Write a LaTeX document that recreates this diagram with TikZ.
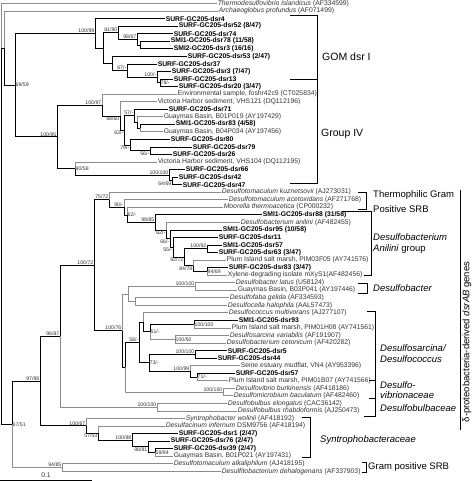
\documentclass[tikz,border=0pt]{standalone}
\usepackage{fontspec}
\setmainfont{Liberation Sans}
\usetikzlibrary{calc}

\definecolor{branchgray}{gray}{0.55}
\definecolor{refgray}{gray}{0.2}

\tikzset{
  leaf/.style={anchor=west, inner sep=0.6pt, font=\fontsize{6.8}{7}\selectfont},
  clone/.style={leaf, font=\fontsize{6.8}{7}\selectfont\bfseries},
  refseq/.style={leaf, text=refgray},
  boot/.style={inner sep=0.5pt, font=\fontsize{5.2}{5.2}\selectfont, text=refgray},
  bsa/.style={boot, anchor=south east},
  bsb/.style={boot, anchor=north east},
  bsr/.style={boot, anchor=west},
  br/.style={line width=0.7pt},
  gbr/.style={line width=0.7pt, draw=branchgray},
  brk/.style={line width=0.6pt},
  grp/.style={anchor=west, inner sep=0pt, font=\fontsize{9.5}{10}\selectfont},
}

\newcommand{\rowy}[1]{3.5+7.545*(#1-1)}
% inner node: name, x, upper child, lower child
\newcommand{\clade}[4]{%
  \path ($(#3)!0.5!(#4)$) coordinate (mid);
  \coordinate (#1) at (mid -| #2,0);}

\begin{document}
\begin{tikzpicture}[x=1pt, y=-1pt]
\useasboundingbox (0,0) rectangle (474,481);

% tips
\node[refseq] (l1) at (217,{\rowy{1}}) {\textit{Thermodesulfovibrio islandicus} (AF334599)};
\node[refseq] (l2) at (218,{\rowy{2}}) {\textit{Archaeoglobus profundus} (AF071499)};
\node[clone] (l3) at (165,{\rowy{3}}) {SURF-GC205-dsr4};
\node[clone] (l4) at (178,{\rowy{4}}) {SURF-GC205-dsr52 (8/47)};
\node[clone] (l5) at (173,{\rowy{5}}) {SURF-GC205-dsr74};
\node[clone] (l6) at (170,{\rowy{6}}) {SMI1-GC205-dsr78 (11/58)};
\node[clone] (l7) at (173,{\rowy{7}}) {SMI2-GC205-dsr3 (16/16)};
\node[clone] (l8) at (187,{\rowy{8}}) {SURF-GC205-dsr53 (2/47)};
\node[clone] (l9) at (157,{\rowy{9}}) {SURF-GC205-dsr37};
\node[clone] (l10) at (171,{\rowy{10}}) {SURF-GC205-dsr3 (7/47)};
\node[clone] (l11) at (173,{\rowy{11}}) {SURF-GC205-dsr13};
\node[clone] (l12) at (178,{\rowy{12}}) {SURF-GC205-dsr20 (3/47)};
\node[refseq] (l13) at (177,{\rowy{13}}) {Environmental sample, foshr42c9 (CT025834)};
\node[refseq] (l14) at (157,{\rowy{14}}) {Victoria Harbor sediment, VHS121 (DQ112196)};
\node[clone] (l15) at (168,{\rowy{15}}) {SURF-GC205-dsr71};
\node[refseq] (l16) at (163,{\rowy{16}}) {Guaymas Basin, B01P019 (AY197429)};
\node[clone] (l17) at (175,{\rowy{17}}) {SMI1-GC205-dsr83 (4/58)};
\node[refseq] (l18) at (163,{\rowy{18}}) {Guaymas Basin, B04P034 (AY197456)};
\node[clone] (l19) at (170,{\rowy{19}}) {SURF-GC205-dsr80};
\node[clone] (l20) at (192,{\rowy{20}}) {SURF-GC205-dsr79};
\node[clone] (l21) at (172,{\rowy{21}}) {SURF-GC205-dsr26};
\node[refseq] (l22) at (157,{\rowy{22}}) {Victoria Harbor sediment, VHS104 (DQ112195)};
\node[clone] (l23) at (185,{\rowy{23}}) {SURF-GC205-dsr66};
\node[clone] (l24) at (178,{\rowy{24}}) {SURF-GC205-dsr42};
\node[clone] (l25) at (182,{\rowy{25}}) {SURF-GC205-dsr47};
\node[refseq] (l26) at (221,{\rowy{26}}) {\textit{Desulfotomaculum kuznetsovii} (AJ273031)};
\node[refseq] (l27) at (228,{\rowy{27}}) {\textit{Desulfotomaculum acetoxidans} (AF271768)};
\node[refseq] (l28) at (223,{\rowy{28}}) {\textit{Moorella thermoacetica} (CP000232)};
\node[clone] (l29) at (262,{\rowy{29}}) {SMI1-GC205-dsr88 (31/58)};
\node[refseq] (l30) at (240,{\rowy{30}}) {\textit{Desulfobacterium anilini} (AF482455)};
\node[clone] (l31) at (222,{\rowy{31}}) {SMI1-GC205-dsr95 (10/58)};
\node[clone] (l32) at (218,{\rowy{32}}) {SURF-GC205-dsr11};
\node[clone] (l33) at (222,{\rowy{33}}) {SMI1-GC205-dsr57};
\node[clone] (l34) at (218,{\rowy{34}}) {SURF-GC205-dsr63 (3/47)};
\node[refseq] (l35) at (226,{\rowy{35}}) {Plum Island salt marsh, PIM03F05 (AY741576)};
\node[clone] (l36) at (228,{\rowy{36}}) {SURF-GC205-dsr83 (3/47)};
\node[refseq] (l37) at (227,{\rowy{37}}) {Xylene-degrading isolate mXyS1(AF482456)};
\node[refseq] (l38) at (235,{\rowy{38}}) {\textit{Desulfobacter latus} (U58124)};
\node[refseq] (l39) at (237,{\rowy{39}}) {Guaymas Basin, B03P041 (AY197446)};
\node[refseq] (l40) at (229,{\rowy{40}}) {\textit{Desulfofaba gelida} (AF334593)};
\node[refseq] (l41) at (227,{\rowy{41}}) {\textit{Desulfocella halophila} (AAL57473)};
\node[refseq] (l42) at (228,{\rowy{42}}) {\textit{Desulfococcus multivorans} (AJ277107)};
\node[clone] (l43) at (238,{\rowy{43}}) {SMI1-GC205-dsr93};
\node[refseq] (l44) at (231,{\rowy{44}}) {Plum Island salt marsh, PIM01H08 (AY741561)};
\node[refseq] (l45) at (229,{\rowy{45}}) {\textit{Desulfosarcina variabilis} (AF191907)};
\node[refseq] (l46) at (226,{\rowy{46}}) {\textit{Desulfobacterium cetonicum} (AF420282)};
\node[clone] (l47) at (227,{\rowy{47}}) {SURF-GC205-dsr5};
\node[clone] (l48) at (217,{\rowy{48}}) {SURF-GC205-dsr44};
\node[refseq] (l49) at (240,{\rowy{49}}) {Seine estuary mudflat, VN4 (AY953396)};
\node[clone] (l50) at (235,{\rowy{50}}) {SURF-GC205-dsr57};
\node[refseq] (l51) at (228,{\rowy{51}}) {Plum Island salt marsh, PIM01B07 (AY741566)};
\node[refseq] (l52) at (235,{\rowy{52}}) {\textit{Desulfovibrio burkinensis} (AF418186)};
\node[refseq] (l53) at (233,{\rowy{53}}) {\textit{Desulfomicrobium baculatum} (AF482460)};
\node[refseq] (l54) at (227,{\rowy{54}}) {\textit{Desulfobulbus elongatus} (CAC36142)};
\node[refseq] (l55) at (237,{\rowy{55}}) {\textit{Desulfobulbus rhabdoformis} (AJ250473)};
\node[refseq] (l56) at (185,{\rowy{56}}) {\textit{Syntrophobacter wolinii} (AF418192)};
\node[refseq] (l57) at (165,{\rowy{57}}) {\textit{Desulfacinum infernum} DSM9756 (AF418194)};
\node[clone] (l58) at (178,{\rowy{58}}) {SURF-GC205-dsr1 (2/47)};
\node[clone] (l59) at (170,{\rowy{59}}) {SURF-GC205-dsr76 (2/47)};
\node[clone] (l60) at (173,{\rowy{60}}) {SURF-GC205-dsr39 (2/47)};
\node[refseq] (l61) at (173,{\rowy{61}}) {Guaymas Basin, B01P021 (AY197431)};
\node[refseq] (l62) at (173,{\rowy{62}}) {\textit{Desulfotomaculum alkaliphilum} (AJ418195)};
\node[refseq] (l63) at (221,{\rowy{63}}) {\textit{Desulfitobacterium dehalogenans} (AF337903)};

% GOM dsr I
\clade{nF}{140}{l6}{l7}
\clade{nE}{137}{l5}{nF}
\clade{nC}{118}{l4}{nE}
\clade{nI}{160}{l11}{l12}
\clade{nH}{157}{l10}{nI}
\clade{nG}{127}{l9}{nH}
\clade{nD}{112}{l8}{nG}
\clade{nB}{103}{nC}{nD}
\clade{nGOM}{95}{l3}{nB}
% Group IV
\clade{nQ}{140}{l17}{l18}
\clade{nN}{137}{l16}{nQ}
\clade{nS}{134}{l15}{nN}
\clade{nR}{150}{l20}{l21}
\clade{nO}{130}{l19}{nR}
\clade{nM}{124}{nS}{nO}
\clade{nL}{120}{l14}{nM}
\clade{nJ}{102}{l13}{nL}
\clade{nT}{172}{l24}{l25}
\clade{nU}{169}{l23}{nT}
\clade{nK}{75}{l22}{nU}
\clade{nIV}{57}{nJ}{nK}
\clade{nX}{15}{nGOM}{nIV}
\clade{nArc}{4}{l2}{nX}
% gram positive and desulfobacterium anilini
\clade{n9469}{207}{l36}{l37}
\clade{n8478}{193}{l35}{n9469}
\clade{n10092}{207}{l33}{l34}
\clade{n9272}{184}{n10092}{n8478}
\clade{n55}{173}{l32}{n9272}
\clade{n66}{170}{l31}{n55}
\clade{n62b}{166}{l30}{n66}
\clade{n9985}{155}{l29}{n62b}
\clade{n62a}{127}{l28}{n9985}
\clade{n90}{124}{l27}{n62a}
\clade{n7572}{109}{l26}{n90}
% desulfobacter to desulfovibrio
\clade{ndsb}{195}{l38}{l39}
\clade{ndfc}{135}{l40}{l41}
\clade{na1}{128}{ndsb}{ndfc}
\clade{n93}{194}{l43}{l44}
\clade{ndsr}{175}{l45}{l46}
\clade{n51}{150}{n93}{ndsr}
\clade{nb1}{143}{l42}{n51}
\clade{n5}{195}{l47}{l48}
\clade{n71}{197}{l50}{l51}
\clade{n10099}{190}{l49}{n71}
\clade{n73}{149}{n5}{n10099}
\clade{n58}{139}{nb1}{n73}
\clade{ndsv}{223}{l52}{l53}
\clade{na2}{125}{n58}{ndsv}
\clade{n10076}{122}{na1}{na2}
\clade{n10072}{94}{n7572}{n10076}
\clade{ndbb}{157}{l54}{l55}
\clade{n9687}{60}{n10072}{ndbb}
% syntrophobacteraceae and root
\clade{n5984}{155}{l60}{l61}
\clade{n9881}{148}{l59}{n5984}
\clade{n10098}{132}{l58}{n9881}
\clade{n5753}{98}{l57}{n10098}
\clade{n10067}{86}{l56}{n5753}
\clade{n9798}{40}{n9687}{n10067}
\clade{n9485}{62}{l62}{l63}
\clade{n6751}{12}{n9798}{n9485}
\clade{root}{1}{l1}{n6751}

% reference branches in gray, drawn first
\foreach \p/\c in {root/l1.west, nArc/l2.west, nJ/l13.west, nL/l14.west,
  nN/l16.west, nQ/l18.west, nK/l22.west, n7572/l26.west, n90/l27.west,
  n62a/l28.west, n62b/l30.west, n8478/l35.west, n9469/l37.west,
  ndsb/l38.west, ndsb/l39.west, ndfc/l40.west, ndfc/l41.west, na1/ndsb,
  na1/ndfc, n10076/na1, nb1/l42.west, n93/l44.west, ndsr/l45.west,
  ndsr/l46.west, n51/ndsr, n10099/l49.west, n71/l51.west, ndsv/l52.west,
  ndsv/l53.west, na2/ndsv, ndbb/l54.west, ndbb/l55.west, n9687/ndbb,
  n10067/l56.west, n5753/l57.west, n5984/l61.west, n9485/l62.west,
  n9485/l63.west, n6751/n9485}
  \draw[gbr] (\p) |- (\c);

% clone branches in black
\foreach \p/\c in {root/nArc, root/n6751, nArc/nX, nX/nGOM, nX/nIV,
  nGOM/l3.west, nGOM/nB, nB/nC, nB/nD, nC/l4.west, nC/nE, nE/l5.west,
  nE/nF, nF/l6.west, nF/l7.west, nD/l8.west, nD/nG, nG/l9.west, nG/nH,
  nH/l10.west, nH/nI, nI/l11.west, nI/l12.west, nIV/nJ, nIV/nK, nJ/nL,
  nL/nM, nM/nS, nM/nO, nS/l15.west, nS/nN, nN/nQ, nQ/l17.west,
  nO/l19.west, nO/nR, nR/l20.west, nR/l21.west, nK/nU, nU/l23.west,
  nU/nT, nT/l24.west, nT/l25.west,
  n6751/n9798, n9798/n9687, n9798/n10067, n9687/n10072, n10072/n7572,
  n10072/n10076, n7572/n90, n90/n62a, n62a/n9985, n9985/l29.west,
  n9985/n62b, n62b/n66, n66/l31.west, n66/n55, n55/l32.west, n55/n9272,
  n9272/n10092, n9272/n8478, n10092/l33.west, n10092/l34.west,
  n8478/n9469, n9469/l36.west, n10076/na2, na2/n58, n58/nb1, n58/n73,
  nb1/n51, n51/n93, n93/l43.west, n73/n5, n73/n10099, n5/l47.west,
  n5/l48.west, n10099/n71, n71/l50.west, n10067/n5753, n5753/n10098,
  n10098/l58.west, n10098/n9881, n9881/l59.west, n9881/n5984,
  n5984/l60.west}
  \draw[br] (\p) |- (\c);

% bootstrap values
\node[bsa] (bGOM) at (nGOM) {100/99};
\node[bsa] (bC) at (nC) {81/90};
\node[bsa] (bE) at (nE) {98/67};
\node[bsa] (bG) at (nG) {67/-};
\node[bsa] (bH) at (nH) {100/-};
\node[bsr] (bI) at (nI) {78/-};
\node[bsr] (bX) at (nX) {69/59};
\node[bsa] (bIV) at (nIV) {100/95};
\node[bsa] (bJ) at (nJ) {100/97};
\node[bsb] (bL) at (nL) {88/60};
\node[bsa] (bS) at (nS) {57/-};
\node[bsb] (bM) at (nM) {63/-};
\node[bsb] (bO) at (nO) {79/-};
\node[bsb] (bR) at (nR) {56/-};
\node[bsr] (bK) at (nK) {90/58};
\node[bsa] (bU) at (nU) {100/100};
\node[bsb] (bT) at (nT) {64/69};
\node[bsa] (b7572) at (n7572) {75/72};
\node[bsa] (b90) at (n90) {90/-};
\node[bsr] (b62a) at (n62a) {62/-};
\node[bsa] (b9985) at (n9985) {99/85};
\node[bsb] (b62b) at (n62b) {62/-};
\node[bsb] (b66) at (n66) {66/-};
\node[bsb] (b55) at (n55) {55/-};
\node[bsa] (b10092) at (n10092) {100/92};
\node[bsb] (b9272) at (n9272) {92/72};
\node[bsb] (b8478) at (n8478) {84/78};
\node[bsr] (b9469) at (n9469) {94/69};
\node[bsa] (b10072) at (n10072) {100/72};
\node[bsa] (b10076) at (n10076) {100/76};
\node[bsa] (bdsb) at (ndsb) {100/100};
\node[bsa] (b58) at (n58) {58/-};
\node[bsr] (b51) at (n51) {51/-};
\node[bsr] (b93) at (n93) {100/100};
\node[bsr] (bdsr) at (ndsr) {100/92};
\node[bsa] (b5) at (n5) {100/100};
\node[bsr] (b73) at (n73) {73/-};
\node[bsa] (b10099) at (n10099) {100/99};
\node[bsr] (b71) at (n71) {71/-};
\node[bsa] (bdsv) at (ndsv) {100/100};
\node[bsa] (bdbb) at (ndbb) {100/100};
\node[bsa] (b9687) at (n9687) {96/87};
\node[bsa] (b9798) at (n9798) {97/98};
\node[bsa] (b10067) at (n10067) {100/67};
\node[bsb] (b5753) at (n5753) {57/53};
\node[bsa] (b10098) at (n10098) {100/98};
\node[bsb] (b9881) at (n9881) {98/81};
\node[bsr] (b5984) at (n5984) {59/84};
\node[bsa] (b9485) at (n9485) {94/85};
\node[bsr] (b6751) at (n6751) {67/51};

% group brackets
\draw[brk] (290,15.5) -| (317,79.5) -- (290,79.5);
\draw[brk] (317,79.5) |- (290,183);
\draw[brk] (358,192) -| (366,209) -- (358,209);
\draw[brk] (342,211.5) -| (371,275) -- (364,275);
\draw[brk] (358,283) -| (367,293.5) -- (358,293.5);
\draw[brk] (367,311) -| (375,416.5) -- (364,416.5);
\draw[brk] (369,380.5) -- (375,380.5);
\draw[brk] (369,398) -- (375,398);
\draw[brk] (302,417) -| (310,457) -- (302,457);
\draw[brk] (362,462) -| (366,472.5) -- (362,472.5);
\draw[brk] (460,190) -- (460,430);

\node[grp, font=\fontsize{10.5}{11}\selectfont] (gom) at (322,57) {GOM dsr I};
\node[grp, font=\fontsize{10.5}{11}\selectfont] (grpiv) at (321,134) {Group IV};
\node[grp] (therm1) at (373,195) {Thermophilic Gram};
\node[grp] (therm2) at (373,209) {Positive SRB};
\node[grp] (anil1) at (373,237) {\textit{Desulfobacterium}};
\node[grp] (anil2) at (373,249) {\textit{Anilini} group};
\node[grp] (dsb) at (373,288) {\textit{Desulfobacter}};
\node[grp] (dss1) at (380,348) {\textit{Desulfosarcina/}};
\node[grp] (dss2) at (380,359.5) {\textit{Desulfococcus}};
\node[grp] (dsv1) at (380,385) {\textit{Desulfo-}};
\node[grp] (dsv2) at (380,395.5) {\textit{vibrionaceae}};
\node[grp] (dbb) at (380,408) {\textit{Desulfobulbaceae}};
\node[grp] (syn) at (320,440) {\textit{Syntrophobacteraceae}};
\node[grp] (gps) at (368,467) {Gram positive SRB};
\node[grp, anchor=center, rotate=90] (delta) at (467,342)
  {δ-proteobacteria-derived \textit{dsrAB} genes};

% scale bar
\coordinate (sbl) at (0,480);
\coordinate (sbr) at (92,480);
\draw[br] (sbl) -- (sbr) node[midway, above=1.5pt, leaf, anchor=south, text=refgray] (sbt) {0.1};

\end{tikzpicture}
\end{document}
